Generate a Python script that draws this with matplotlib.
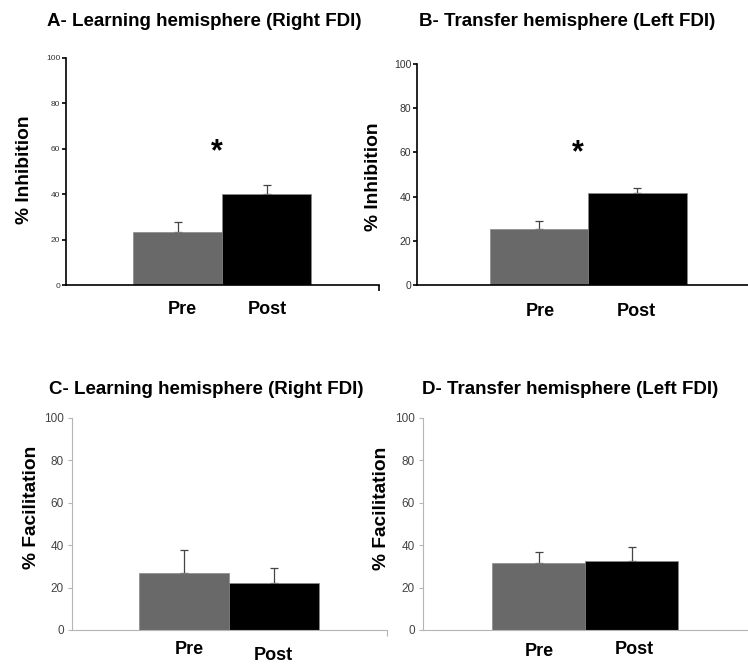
import matplotlib.pyplot as plt
import numpy as np

plt.rcParams["font.family"] = ["Liberation Sans", "DejaVu Sans"]

W, H = 748, 665

conditions = ["Pre", "Post"]
bar_colors = ["#696969", "#000000"]

titles = [
    "A- Learning hemisphere (Right FDI)",
    "B- Transfer hemisphere (Left FDI)",
    "C- Learning hemisphere (Right FDI)",
    "D- Transfer hemisphere (Left FDI)",
]
ylabels = ["% Inhibition", "% Inhibition", "% Facilitation", "% Facilitation"]

# group means and upper SE for each panel (Pre, Post)
means_A = [23.5, 40.1]
sem_A = [4.4, 3.9]
means_B = [25.2, 41.5]
sem_B = [3.8, 2.3]
means_C = [27.0, 22.0]
sem_C = [10.7, 7.4]
means_D = [31.4, 32.5]
sem_D = [5.2, 6.6]

yticks = [0, 20, 40, 60, 80, 100]

# significance marks (x between bars, y height) for the inhibition panels
star_A = (0.44, 58.3)
star_B = (0.39, 59.8)

# layout in pixels: left, right, top, bottom of each plot area
boxes = [(66, 379, 58, 285), (417, 760, 64, 285),
         (72, 387, 418, 630), (423, 760, 418, 630)]
xlims = [(-1.253, 2.264), (-1.238, 2.245), (-1.244, 2.256), (-1.242, 2.379)]
end_tick = [True, False, True, False]
title_xy = [(204, 22), (567, 22), (206, 390), (570, 390)]
ylabel_xy = [(25, 170), (373, 177), (31, 507), (381, 508)]
# label offsets (dx, dy) in pixels relative to bar centre / x axis
label_off = [[(5, 25), (1, 25)], [(1, 27), (-1, 27)],
             [(5, 20), (-1, 25)], [(1, 21), (3, 20)]]

panels = [(means_A, sem_A, star_A), (means_B, sem_B, star_B),
          (means_C, sem_C, None), (means_D, sem_D, None)]

fig = plt.figure(figsize=(W / 100, H / 100), dpi=100)

for k, ((means, sems, star), box) in enumerate(zip(panels, boxes)):
    left, right, top, bottom = box
    ax = fig.add_axes([left / W, 1 - bottom / H, (right - left) / W, (bottom - top) / H])
    ax.patch.set_alpha(0)
    top_row = k < 2
    axis_col = "black" if top_row else "#b5b5b5"
    axis_lw = 1.2 if top_row else 0.8

    x = np.arange(len(conditions))
    ax.bar(x, means, width=1.0, color=bar_colors, edgecolor="#8a8a8a",
           linewidth=0.5, zorder=2)
    ax.errorbar(x, means, yerr=[np.zeros(len(sems)), sems], fmt="none",
                ecolor="#444444", elinewidth=0.9, capsize=3, capthick=0.9, zorder=1)

    ax.set_xlim(*xlims[k])
    ax.set_ylim(0, 100)
    ax.set_yticks(yticks)
    tick_fs = [6, 7.5, 8.5, 8.5][k]
    ax.set_yticklabels([str(t) for t in yticks], fontsize=tick_fs,
                       color="#333333" if top_row else "#444444")
    ax.tick_params(axis="y", direction="out", length=3,
                   width=axis_lw, color=axis_col, pad=1 if top_row else 3)
    if end_tick[k]:
        ax.set_xticks([xlims[k][1]])
        ax.set_xticklabels([""])
    else:
        ax.set_xticks([])
    ax.tick_params(axis="x", direction="out", length=4, width=axis_lw, color=axis_col)

    for side in ["top", "right"]:
        ax.spines[side].set_visible(False)
    for side in ["left", "bottom"]:
        ax.spines[side].set_color(axis_col)
        ax.spines[side].set_linewidth(axis_lw)
    ax.spines["bottom"].set_zorder(3)

    for i, lab in enumerate(conditions):
        dx, dy = label_off[k][i]
        ax.annotate(lab, xy=(x[i], 0), xycoords="data",
                    xytext=(dx * 0.72, -dy * 0.72), textcoords="offset points",
                    ha="center", va="center", fontsize=13, fontweight="bold")

    if star is not None:
        ax.text(star[0], star[1], "*", ha="center", va="center",
                fontsize=22, fontweight="bold")

    tx, ty = title_xy[k]
    fig.text(tx / W, 1 - ty / H, titles[k], ha="center", va="center",
             fontsize=13.5, fontweight="bold")
    lx, ly = ylabel_xy[k]
    fig.text(lx / W, 1 - ly / H, ylabels[k], ha="center", va="center",
             rotation=90, fontsize=13.8, fontweight="bold")

fig.savefig("out.png", dpi=100)
